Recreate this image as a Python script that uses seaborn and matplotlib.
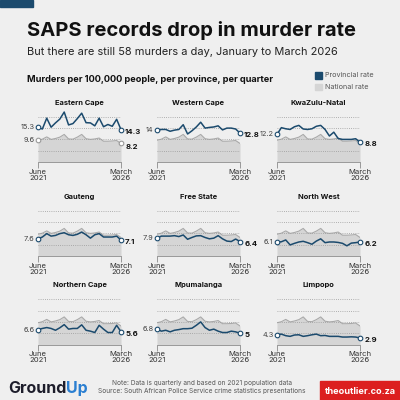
import seaborn as sns
import pandas as pd
import matplotlib.pyplot as plt
from matplotlib.patches import Rectangle

# quarters, June 2021 .. March 2026
quarters = ["Jun 2021", "Sep 2021", "Dec 2021", "Mar 2022", "Jun 2022", "Sep 2022", "Dec 2022",
            "Mar 2023", "Jun 2023", "Sep 2023", "Dec 2023", "Mar 2024", "Jun 2024", "Sep 2024",
            "Dec 2024", "Mar 2025", "Jun 2025", "Sep 2025", "Dec 2025", "Mar 2026"]
tick_labels = ["June\n2021", "March\n2026"]

national = [9.6, 10.1, 11.1, 10.0, 10.4, 11.0, 12.2, 10.2, 10.1, 11.0,
            12.2, 10.3, 10.0, 10.2, 10.6, 9.2, 9.2, 9.3, 9.5, 8.2]

provinces = ["Eastern Cape", "Western Cape", "KwaZulu-Natal",
             "Gauteng", "Free State", "North West",
             "Northern Cape", "Mpumalanga", "Limpopo"]

eastern_cape = [15.3, 14.6, 19.4, 15.4, 17.3, 19.0, 22.1, 16.4, 17.0, 19.2,
                21.6, 17.4, 17.3, 16.0, 19.4, 15.6, 16.6, 15.8, 18.9, 14.3]
western_cape = [14.0, 14.4, 14.4, 13.6, 14.1, 14.4, 16.5, 12.4, 13.8, 15.5,
                17.6, 15.0, 15.3, 15.5, 16.0, 14.2, 15.0, 15.0, 14.6, 12.8]
kwazulu_natal = [12.2, 15.2, 14.7, 14.4, 15.6, 16.2, 14.6, 14.4, 14.7, 15.8,
                 16.2, 14.4, 11.5, 13.2, 10.4, 10.0, 10.0, 10.0, 10.3, 8.8]
gauteng = [7.6, 8.4, 9.9, 8.8, 9.1, 9.9, 10.3, 9.4, 9.1, 9.6,
           10.6, 9.4, 7.9, 9.4, 9.9, 8.4, 8.4, 8.4, 8.8, 7.1]
free_state = [7.9, 8.8, 8.8, 8.8, 9.0, 8.6, 9.3, 7.4, 8.2, 8.9,
              9.0, 8.2, 7.6, 7.9, 9.0, 7.6, 6.6, 6.4, 7.5, 6.4]
north_west = [6.1, 6.3, 7.1, 4.9, 5.6, 6.2, 6.5, 5.9, 5.2, 6.6,
              7.6, 5.9, 6.2, 6.2, 6.0, 5.6, 4.5, 5.7, 5.9, 6.2]
northern_cape = [6.6, 7.1, 7.5, 7.1, 6.3, 7.4, 8.8, 6.8, 7.1, 7.1,
                 8.7, 6.3, 5.9, 5.3, 8.5, 6.8, 5.3, 5.3, 8.5, 5.6]
mpumalanga = [6.8, 5.9, 6.3, 5.6, 6.3, 6.6, 7.0, 7.0, 7.2, 8.5,
              10.0, 7.5, 6.3, 6.8, 5.9, 5.3, 5.3, 5.9, 5.6, 5.0]
limpopo = [4.3, 4.6, 3.9, 3.6, 4.2, 4.3, 3.6, 3.9, 4.3, 4.6,
           3.9, 4.0, 3.6, 3.6, 3.6, 3.3, 3.3, 3.4, 3.3, 2.9]

start_labels = ["15.3", "14", "12.2", "7.6", "7.9", "6.1", "6.6", "6.8", "4.3"]
end_labels = ["14.3", "12.8", "8.8", "7.1", "6.4", "6.2", "5.6", "5", "2.9"]

rates = [eastern_cape, western_cape, kwazulu_natal, gauteng, free_state,
         north_west, northern_cape, mpumalanga, limpopo]

rows = []
for name, vals in zip(provinces, rates):
    for i, v in enumerate(vals):
        rows.append({"province": name, "q": i, "quarter": quarters[i], "rate": v})
df = pd.DataFrame(rows)
nat = pd.DataFrame({"q": range(len(quarters)), "rate": national})

sns.set_theme(style="white")
plt.rcParams['font.family'] = ['Inter', 'DejaVu Sans']

NAVY = "#1b4a6d"
FILL = "#d5d5d5"
EDGE = "#a9a9a9"
BG = "#efefef"

fig = plt.figure(figsize=(4, 4), dpi=100)
fig.patch.set_facecolor(BG)

# background axes in pixel coordinates
bg = fig.add_axes([0, 0, 1, 1], zorder=-5)
bg.set_xlim(0, 400)
bg.set_ylim(400, 0)
bg.axis("off")
bg.add_patch(Rectangle((0, 0), 33, 7, color=NAVY))
bg.text(27, 31, "SAPS records drop in murder rate", fontsize=14.5, fontweight="bold",
        color="#111111", va="center", ha="left")
bg.text(27, 52, "But there are still 58 murders a day, January to March 2026", fontsize=7.9,
        color="#222222", va="center", ha="left")
bg.text(27, 80, "Murders per 100,000 people, per province, per quarter", fontsize=6.6,
        fontweight="bold", color="#111111", va="center", ha="left")
bg.add_patch(Rectangle((315, 72), 7, 6.5, color=NAVY))
bg.add_patch(Rectangle((315, 83.5), 7, 6.5, color=FILL))
bg.text(325, 75.2, "Provincial rate", fontsize=5.2, color="#555555", va="center")
bg.text(325, 86.7, "National rate", fontsize=5.2, color="#555555", va="center")

# footer
t_logo = bg.text(8, 396, "Ground", fontsize=11.5, fontweight="bold", color="#1d1d2b",
                 va="bottom", ha="left")
bg.annotate("Up", xy=(1, 0), xycoords=t_logo, fontsize=11.5, fontweight="bold",
            color="#2b7fd1", va="bottom", ha="left")
bg.text(202, 383, "Note: Data is quarterly and based on 2021 population data", fontsize=4.7,
        color="#555555", ha="center", va="center")
bg.text(202, 391, "Source: South African Police Service crime statistics presentations",
        fontsize=4.7, color="#555555", ha="center", va="center")
bg.add_patch(Rectangle((320, 381), 80, 19, color="#dc1f1f"))
bg.text(360, 391, "theoutlier.co.za", fontsize=6.6, fontweight="bold", color="white",
        ha="center", va="center")

col_x = [38, 157, 277]
row_base = [162, 256, 344.5]
px_per_unit = 2.26
ymax = 23
width = 83

for k, name in enumerate(provinces):
    r, c = divmod(k, 3)
    left = col_x[c] / 400
    bottom = 1 - row_base[r] / 400
    height = ymax * px_per_unit / 400
    ax = fig.add_axes([left, bottom, width / 400, height])
    ax.set_facecolor("none")

    ax.fill_between(nat["q"], 0, nat["rate"], color=FILL, lw=0, zorder=1)
    ax.plot(nat["q"], nat["rate"], color=EDGE, lw=0.8, zorder=2)

    for g in [5, 10, 15, 20]:
        ax.axhline(g, color="#9a9a9a", lw=0.6, ls=(0, (1, 1.6)), zorder=3)

    sub = df[df["province"] == name]
    sns.lineplot(data=sub, x="q", y="rate", color=NAVY, lw=1.1, ax=ax, zorder=4)

    vals = rates[k]
    ax.scatter([0, len(vals) - 1], [vals[0], vals[-1]], s=11, facecolor="white",
               edgecolor=NAVY, linewidth=0.8, zorder=5, clip_on=False)
    ax.annotate(start_labels[k], (0, vals[0]), xytext=(-2.5, 0), textcoords="offset points",
                ha="right", va="center", fontsize=5.3, color="#444444")
    ax.annotate(end_labels[k], (len(vals) - 1, vals[-1]), xytext=(3, -1.5),
                textcoords="offset points", ha="left", va="center", fontsize=5.6,
                fontweight="bold", color="#111111")

    if k == 0:
        ax.scatter([0, len(national) - 1], [national[0], national[-1]], s=11,
                   facecolor="white", edgecolor="#999999", linewidth=0.8, zorder=5,
                   clip_on=False)
        ax.annotate("9.6", (0, national[0]), xytext=(-2.5, 0), textcoords="offset points",
                    ha="right", va="center", fontsize=5.3, color="#444444")
        ax.annotate("8.2", (len(national) - 1, national[-1]), xytext=(3, -2.5),
                    textcoords="offset points", ha="left", va="center", fontsize=5.6,
                    fontweight="bold", color="#111111")

    ax.annotate(name, (9.5, 20), xytext=(0, 10), textcoords="offset points",
                ha="center", va="center", fontsize=5.4, fontweight="bold", color="#111111")

    ax.set_xlim(0, len(quarters) - 1)
    ax.set_ylim(0, ymax)
    ax.set_xticks([0, len(quarters) - 1])
    ax.set_xticklabels(tick_labels, fontsize=5.5, color="#333333", linespacing=0.95)
    ax.set_yticks([])
    ax.set_xlabel("")
    ax.set_ylabel("")
    ax.tick_params(axis="x", length=4, width=0.7, color="#999999", pad=1, bottom=True)
    for s in ["top", "right", "left"]:
        ax.spines[s].set_visible(False)
    ax.spines["bottom"].set_color("#999999")
    ax.spines["bottom"].set_linewidth(0.7)

fig.savefig("out.png", dpi=100, facecolor=BG)
